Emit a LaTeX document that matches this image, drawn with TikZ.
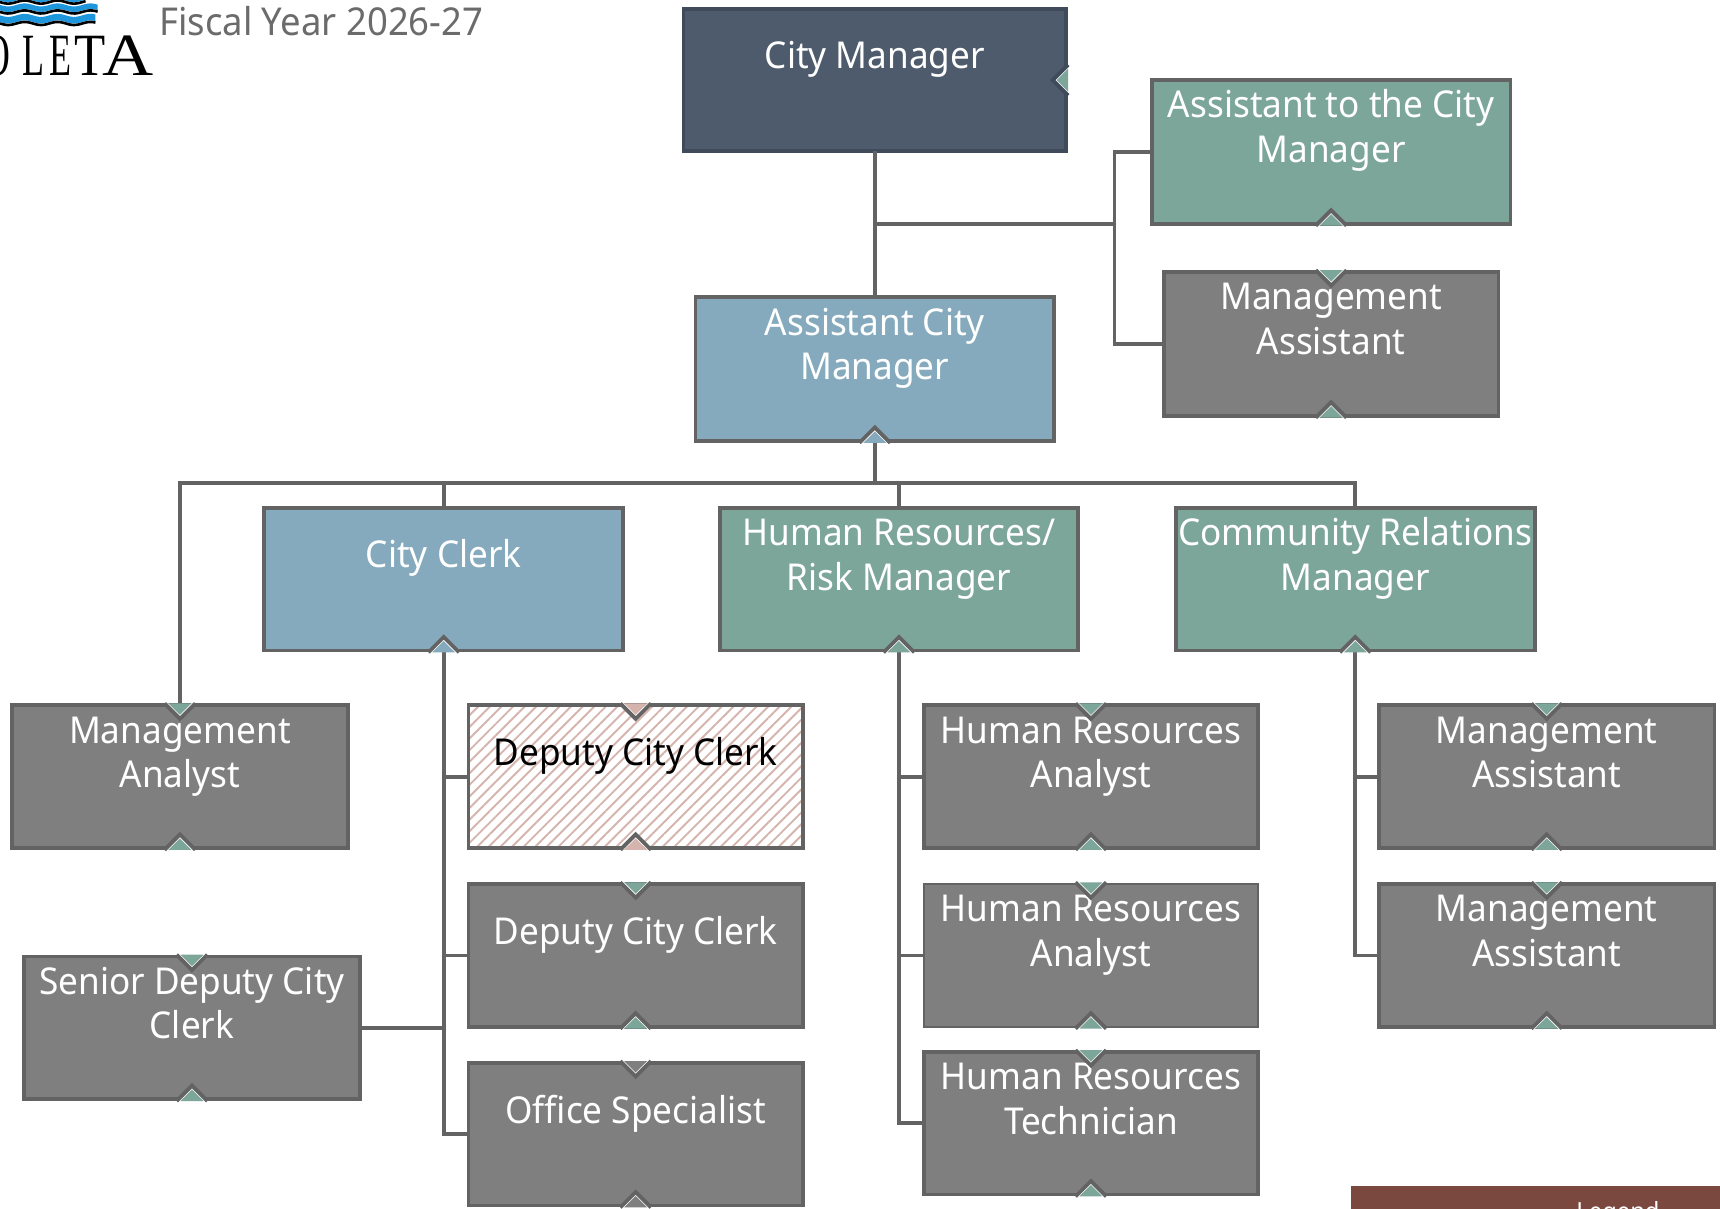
\documentclass[tikz,border=0pt]{standalone}
\usepackage{fontspec}
\usepackage{graphicx}
\setmainfont{Noto Sans}[FakeStretch=0.95]
\newfontfamily\logofont{Liberation Serif}
\usetikzlibrary{patterns.meta,calc}
\definecolor{edgegray}{HTML}{636363}
\definecolor{boxgray}{HTML}{7F7F7F}
\definecolor{tealc}{HTML}{7DA69A}
\definecolor{bluegray}{HTML}{85AABD}
\definecolor{navy}{HTML}{4D5B6C}
\definecolor{navyedge}{HTML}{3F4B5A}
\definecolor{pinkc}{HTML}{D6B4AE}
\definecolor{legendc}{HTML}{7A483E}
\definecolor{wavec}{HTML}{1E96DC}
\tikzset{
  orgbox/.style={draw=edgegray,line width=3.8pt,anchor=north west,inner sep=0pt,outer sep=0pt},
  graybox/.style={orgbox,fill=boxgray},
  thinbox/.style={orgbox,fill=boxgray,line width=2.2pt},
  tealbox/.style={orgbox,fill=tealc},
  bluebox/.style={orgbox,fill=bluegray},
  navybox/.style={orgbox,fill=navy,draw=navyedge},
  boxtext/.style={align=center,text=white,font=\fontsize{37}{44.6}\selectfont,inner sep=0pt},
  conn/.style={draw=edgegray,line width=3.8pt},
  capedge/.style={line width=3.8pt},
  capwhite/.style={white,line width=1.4pt},
}
% \orgnode{name}{style}{x}{y}{w}{h}{text}
\newcommand{\orgnode}[7]{%
  \node[#2,minimum width=#5*1.09694pt-2.2pt,minimum height=#6*1.09694pt-2.2pt] (#1) at (#3+1,#4+1) {};
  \node[boxtext] (#1-t) at ($(#1.north)+(0,46)$) {\vphantom{Hlgy}#7\vphantom{Hlgy}};
}
\newcommand{\capup}[3]{%
  \fill[#2] ($(#1.south)+(-10.5,1.7)$) -- ($(#1.south)+(0,-9)$) -- ($(#1.south)+(10.5,1.7)$) -- cycle;
  \draw[capwhite] ($(#1.south)+(-11.5,1.7)$) -- ($(#1.south)+(0,-9.8)$) -- ($(#1.south)+(11.5,1.7)$);
  \draw[#3,capedge] ($(#1.south)+(-14,1.7)$) -- ($(#1.south)+(0,-12.3)$) -- ($(#1.south)+(14,1.7)$);
}
\newcommand{\capdown}[3]{%
  \fill[#2] ($(#1.north)+(-10.5,-1.7)$) -- ($(#1.north)+(0,9)$) -- ($(#1.north)+(10.5,-1.7)$) -- cycle;
  \draw[capwhite] ($(#1.north)+(-11.5,-1.7)$) -- ($(#1.north)+(0,9.8)$) -- ($(#1.north)+(11.5,-1.7)$);
  \draw[#3,capedge] ($(#1.north)+(-14,-1.7)$) -- ($(#1.north)+(0,12.3)$) -- ($(#1.north)+(14,-1.7)$);
}
% one wave band: \waveband{top}{bottom}{xmax}
\newcommand{\waveband}[3]{%
  \fill[wavec] plot[domain=0:#3,samples=40] (\x,{#1+1.4*sin(12*\x)}) -- plot[domain=#3:0,samples=40] (\x,{#2+1.4*sin(12*\x)}) -- cycle;
  \draw[black,line width=2.6pt] plot[domain=0:#3,samples=40] (\x,{#2+1.4+1.4*sin(12*\x)});
}
\begin{document}
\begin{tikzpicture}[x=1.09694pt,y=-1.09694pt]
\useasboundingbox (0,0) rectangle (1568,1101.25);
\clip (0,0) rectangle (1568,1101.25);
\fill[white] (0,0) rectangle (1568,1101.25);

% logo
\waveband{-3}{0.5}{78}
\waveband{4.5}{9.5}{89}
\waveband{14}{20}{87}
\node[anchor=base west,inner sep=0pt,text=black] (logo) at (-15,68.6) {\logofont\fontsize{60}{60}\selectfont
  \scalebox{.62}[1]{O}\kern12pt\scalebox{.6}[1]{L}\kern5pt\scalebox{.6}[1]{E}\kern3pt\scalebox{.85}[1]{T}\kern-3.5pt\scalebox{1.18}[1]{A}};
\node[anchor=west,inner sep=0pt,text=black!58,font=\fontsize{38.4}{40}\selectfont] (fy) at (145,19) {Fiscal Year 2026-27};

% boxes
\orgnode{cm}{navybox}{622}{7}{351}{132}{City Manager}
\orgnode{atcm}{tealbox}{1049}{72}{329}{133}{Assistant to the City\\Manager}
\orgnode{ma0}{graybox}{1060}{247}{307}{133}{Management\\Assistant}
\orgnode{acm}{bluebox}{633}{270}{329}{133}{Assistant City\\Manager}
\orgnode{cc}{bluebox}{240}{462}{329}{132}{City Clerk}
\orgnode{hr}{tealbox}{655}{462}{329}{132}{Human Resources/\\Risk Manager}
\orgnode{cr}{tealbox}{1071}{462}{329}{132}{Community Relations\\Manager}
\orgnode{man}{graybox}{10}{642}{308}{132}{Management\\Analyst}
\node[orgbox,fill=white,minimum width=307*1.09694pt-2.2pt,minimum height=132*1.09694pt-2.2pt] (dcch) at (426+1,642+1) {};
\path[pattern={Lines[angle=45,distance=8.2pt,line width=1.9pt]},pattern color=pinkc] (dcch.south west) rectangle (dcch.north east);
\draw[edgegray,line width=3.8pt] (dcch.south west) rectangle (dcch.north east);
\node[boxtext,text=black] (dcch-t) at ($(dcch.north)+(0,46)$) {\vphantom{Hlgy}Deputy City Clerk};
\orgnode{dc}{graybox}{426}{805}{307}{132}{Deputy City Clerk}
\orgnode{sdc}{graybox}{21}{871}{308}{132}{Senior Deputy City\\Clerk}
\orgnode{os}{graybox}{426}{968}{307}{132}{Office Specialist}
\orgnode{hra1}{graybox}{841}{642}{307}{132}{Human Resources\\Analyst}
\orgnode{hra2}{thinbox}{841}{805}{307}{132}{Human Resources\\Analyst}
\orgnode{hrt}{graybox}{841}{958}{307}{132}{Human Resources\\Technician}
\orgnode{ma1}{graybox}{1256}{642}{308}{132}{Management\\Assistant}
\orgnode{ma2}{graybox}{1256}{805}{308}{132}{Management\\Assistant}
\node[anchor=north west,fill=legendc,minimum width=336*1.09694pt,minimum height=30pt,inner sep=0pt,outer sep=0pt] (leg) at (1232,1081) {};
\node[boxtext,font=\fontsize{25}{28}\selectfont,anchor=north] (leg-t) at (1475,1095) {Legend};

% connectors
\coordinate (j1) at (cm.south |- 0,204);
\coordinate (j1r) at (1016,204);
\coordinate (bus) at (acm.south |- 0,440);
\draw[conn] (cm.south) -- (acm.north);
\draw[conn] (j1) -- (j1r);
\draw[conn] (atcm.west) -| (j1r) |- (ma0.west);
\draw[conn] (acm.south) -- (bus);
\draw[conn] (bus) -| (man.north);
\draw[conn] (bus) -| (cc.north);
\draw[conn] (bus) -| (hr.north);
\draw[conn] (bus) -| (cr.north);
\draw[conn] (cc.south) |- (os.west);
\coordinate (c1) at (cc.south |- dcch.west);
\coordinate (c2) at (cc.south |- dc.west);
\coordinate (c3) at (cc.south |- sdc.east);
\draw[conn] (c1) -- (dcch.west);
\draw[conn] (c2) -- (dc.west);
\draw[conn] (c3) -- (sdc.east);
\draw[conn] (hr.south) |- (hrt.west);
\coordinate (h1) at (hr.south |- hra1.west);
\coordinate (h2) at (hr.south |- hra2.west);
\draw[conn] (h1) -- (hra1.west);
\draw[conn] (h2) -- (hra2.west);
\draw[conn] (cr.south) |- (ma2.west);
\coordinate (r1) at (cr.south |- ma1.west);
\draw[conn] (r1) -- (ma1.west);

% carets
\capup{atcm}{tealc}{edgegray}
\capdown{ma0}{tealc}{edgegray}
\capup{ma0}{tealc}{edgegray}
\capup{acm}{bluegray}{edgegray}
\capup{cc}{bluegray}{edgegray}
\capup{hr}{tealc}{edgegray}
\capup{cr}{tealc}{edgegray}
\capdown{man}{tealc}{edgegray}
\capup{man}{tealc}{edgegray}
\capdown{dcch}{pinkc}{edgegray}
\capup{dcch}{pinkc}{edgegray}
\capdown{dc}{tealc}{edgegray}
\capup{dc}{tealc}{edgegray}
\capdown{sdc}{tealc}{edgegray}
\capup{sdc}{tealc}{edgegray}
\capdown{os}{boxgray}{edgegray}
\capup{os}{boxgray}{edgegray}
\capdown{hra1}{tealc}{edgegray}
\capup{hra1}{tealc}{edgegray}
\capdown{hra2}{tealc}{edgegray}
\capup{hra2}{tealc}{edgegray}
\capdown{hrt}{tealc}{edgegray}
\capup{hrt}{tealc}{edgegray}
\capdown{ma1}{tealc}{edgegray}
\capup{ma1}{tealc}{edgegray}
\capdown{ma2}{tealc}{edgegray}
\capup{ma2}{tealc}{edgegray}
% caret on the right side of the city manager
\fill[tealc] ($(cm.east)+(1.7,-10.5)$) -- ($(cm.east)+(-9,0)$) -- ($(cm.east)+(1.7,10.5)$) -- cycle;
\draw[capwhite] ($(cm.east)+(1.7,-11.5)$) -- ($(cm.east)+(-9.8,0)$) -- ($(cm.east)+(1.7,11.5)$);
\draw[navyedge,capedge] ($(cm.east)+(1.7,-14)$) -- ($(cm.east)+(-12.3,0)$) -- ($(cm.east)+(1.7,14)$);
\end{tikzpicture}
\end{document}
